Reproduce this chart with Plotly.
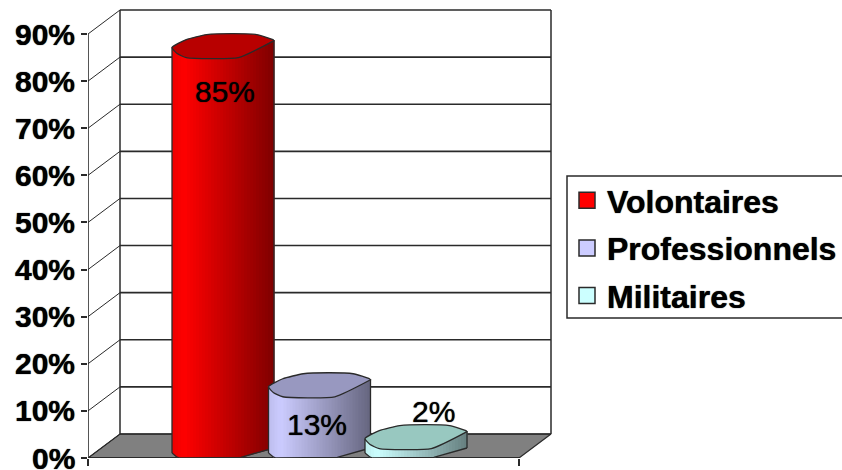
import numpy as np
import plotly.graph_objects as go

# Data
series = ["Volontaires", "Professionnels", "Militaires"]
values = [85, 13, 2]
labels = ["85%", "13%", "2%"]
label_shift = [-7.3, -5.8, 7.8]
label_dx = [2, -2.5, 17]
tick_vals = [0, 10, 20, 30, 40, 50, 60, 70, 80, 90]
tick_text = ["0%", "10%", "20%", "30%", "40%", "50%", "60%", "70%", "80%", "90%"]
front_colors = [(255, 0, 0), (204, 204, 255), (204, 255, 255)]
top_colors = ["#b80000", "#9898c0", "#98c8c0"]

# Geometry (pixels of the 842x470 page turned into axis units)
PX_PER_PCT = (458 - 34) / 90
W_PLOT = 842 - 88
H_PLOT = 458
DEPTH_X = 32
DEPTH_Y = 24 / PX_PER_PCT
FRONT_W = 431
BAR_W = 102
BAR_STEP = 96.5
GROUP_CENTER = FRONT_W / 2 + DEPTH_X / 2

TOP_FRONT_U = [0, 0.05, 0.14, 0.65, 1]
TOP_FRONT_PX = [10, 4, 0, 0, 17]
TOP_BACK_U = [1, 0.99, 0.83, 0.6, 0.34, 0.14, 0]
TOP_BACK_PX = [17, 18, 23, 24, 23, 18, 10]
BASE_U = [0, 0.06, 0.65, 1]
BASE_PX = [5, 0, 0, 10]

fig = go.Figure()
DARK = "#2a2a2a"
THICKEN = "0 0 1px #000000"
TICK_FONT = dict(family="Liberation Sans", size=30, weight="bold", color="#000000", shadow=THICKEN)


def line(xs, ys, color=DARK, width=1.4):
    fig.add_trace(go.Scatter(x=xs, y=ys, mode="lines", line=dict(color=color, width=width),
                             showlegend=False, hoverinfo="skip"))


# Floor
fig.add_trace(go.Scatter(
    x=[0, DEPTH_X, DEPTH_X + FRONT_W, FRONT_W, 0],
    y=[0, DEPTH_Y, DEPTH_Y, 0, 0],
    mode="lines", fill="toself", fillcolor="#808080",
    line=dict(color=DARK, width=1.2), showlegend=False, hoverinfo="skip"))

# Walls and grid
for v in tick_vals:
    line([0, DEPTH_X], [v, v + DEPTH_Y], width=1)
    line([DEPTH_X, DEPTH_X + FRONT_W], [v + DEPTH_Y, v + DEPTH_Y], width=1.6)
line([DEPTH_X, DEPTH_X], [DEPTH_Y, 90 + DEPTH_Y], width=1.5)
line([DEPTH_X + FRONT_W, DEPTH_X + FRONT_W], [DEPTH_Y, 90 + DEPTH_Y], width=1.5)
line([0, 0], [0, 90], width=1.6)
line([0, FRONT_W], [0, 0], width=2)


def shade(rgb, u):
    if u < 0.12:
        f = 0.93 + 0.07 * u / 0.12
    else:
        f = 1 - 0.5 * (u - 0.12) / 0.88
    return "rgb(%d,%d,%d)" % tuple(int(c * f) for c in rgb)


# Cylinders
N = 34
for i, (name, val) in enumerate(zip(series, values)):
    left = GROUP_CENTER + (i - 1) * BAR_STEP - BAR_W / 2
    edges = np.linspace(0, 1, N + 1)
    for k in range(N):
        u = np.linspace(edges[k], edges[k + 1], 3)
        top = val + np.interp(u, TOP_FRONT_U, TOP_FRONT_PX) / PX_PER_PCT
        bot = np.interp(u, BASE_U, BASE_PX) / PX_PER_PCT
        xs = left + u * BAR_W
        c = shade(front_colors[i], (edges[k] + edges[k + 1]) / 2)
        fig.add_trace(go.Scatter(
            x=list(xs) + list(xs[::-1]), y=list(top) + list(bot[::-1]),
            mode="lines", fill="toself", fillcolor=c, line=dict(color=c, width=1),
            showlegend=False, hoverinfo="skip"))
    # outline of the body
    uu = np.linspace(0, 1, 41)
    bot = np.interp(uu, BASE_U, BASE_PX) / PX_PER_PCT
    line(list(left + uu * BAR_W), list(bot), width=1.3)
    line([left, left], [BASE_PX[0] / PX_PER_PCT, val + TOP_FRONT_PX[0] / PX_PER_PCT], width=1.3)
    line([left + BAR_W, left + BAR_W], [BASE_PX[-1] / PX_PER_PCT, val + TOP_FRONT_PX[-1] / PX_PER_PCT], width=1.3)
    # top face
    tx = [left + u * BAR_W for u in TOP_FRONT_U + TOP_BACK_U]
    ty = [val + p / PX_PER_PCT for p in TOP_FRONT_PX + TOP_BACK_PX]
    fig.add_trace(go.Scatter(x=tx, y=ty, mode="lines", fill="toself", fillcolor=top_colors[i],
                             line=dict(color=DARK, width=1.3, shape="spline", smoothing=0.5),
                             showlegend=False, hoverinfo="skip"))
    # legend entry
    fig.add_trace(go.Scatter(
        x=[None], y=[None], mode="markers", name=name, legendgroup=name,
        marker=dict(symbol="square", size=20, color="rgb(%d,%d,%d)" % front_colors[i],
                    line=dict(color=DARK, width=1.5)),
        hoverinfo="skip"))
    fig.add_annotation(
        x=GROUP_CENTER + (i - 1) * BAR_STEP + label_dx[i], y=val + label_shift[i],
        text=labels[i], showarrow=False, xanchor="center", yanchor="middle",
        font=dict(family="Liberation Sans", size=30, color="#000000", shadow=THICKEN))

# The lowest tick label runs past the page edge, as in the reference
fig.add_annotation(x=0, y=tick_vals[0], text=tick_text[0], showarrow=False,
                   xanchor="right", yanchor="middle", xshift=-11, font=TICK_FONT)

# Legend frame
fig.add_shape(type="rect", xref="paper", yref="paper",
              x0=(567 - 88) / W_PLOT, x1=1.01, y0=(458 - 318) / H_PLOT, y1=(458 - 176) / H_PLOT,
              line=dict(color=DARK, width=1.5), fillcolor="white", layer="below")

fig.update_layout(
    width=842, height=470, autosize=False,
    margin=dict(l=88, r=0, t=0, b=12),
    paper_bgcolor="white", plot_bgcolor="white",
    font=dict(family="Liberation Sans", color="#000000"),
    xaxis=dict(range=[0, W_PLOT], showgrid=False, zeroline=False, showline=False,
               tickmode="array", tickvals=[0, FRONT_W], ticktext=["", ""],
               ticks="outside", ticklen=7, tickwidth=1.5, tickcolor=DARK, fixedrange=True),
    yaxis=dict(range=[0, H_PLOT / PX_PER_PCT], showgrid=False, zeroline=False, showline=False,
               tickmode="array", tickvals=tick_vals, ticktext=tick_text,
               ticks="outside", ticklen=6, tickwidth=1.5, tickcolor=DARK,
               tickfont=TICK_FONT, fixedrange=True),
    legend=dict(
        x=(567 - 88) / W_PLOT, xanchor="left", y=(458 - 173) / H_PLOT, yanchor="top",
        bgcolor="rgba(0,0,0,0)", borderwidth=0,
        font=dict(family="Liberation Sans", size=32, weight="bold", color="#000000", shadow=THICKEN),
        tracegroupgap=3, itemclick=False, itemdoubleclick=False),
    showlegend=True,
)
fig.write_html("out.html", config={"displayModeBar": False},
               post_script="document.body.style.margin='0';document.documentElement.style.overflow='hidden';")
